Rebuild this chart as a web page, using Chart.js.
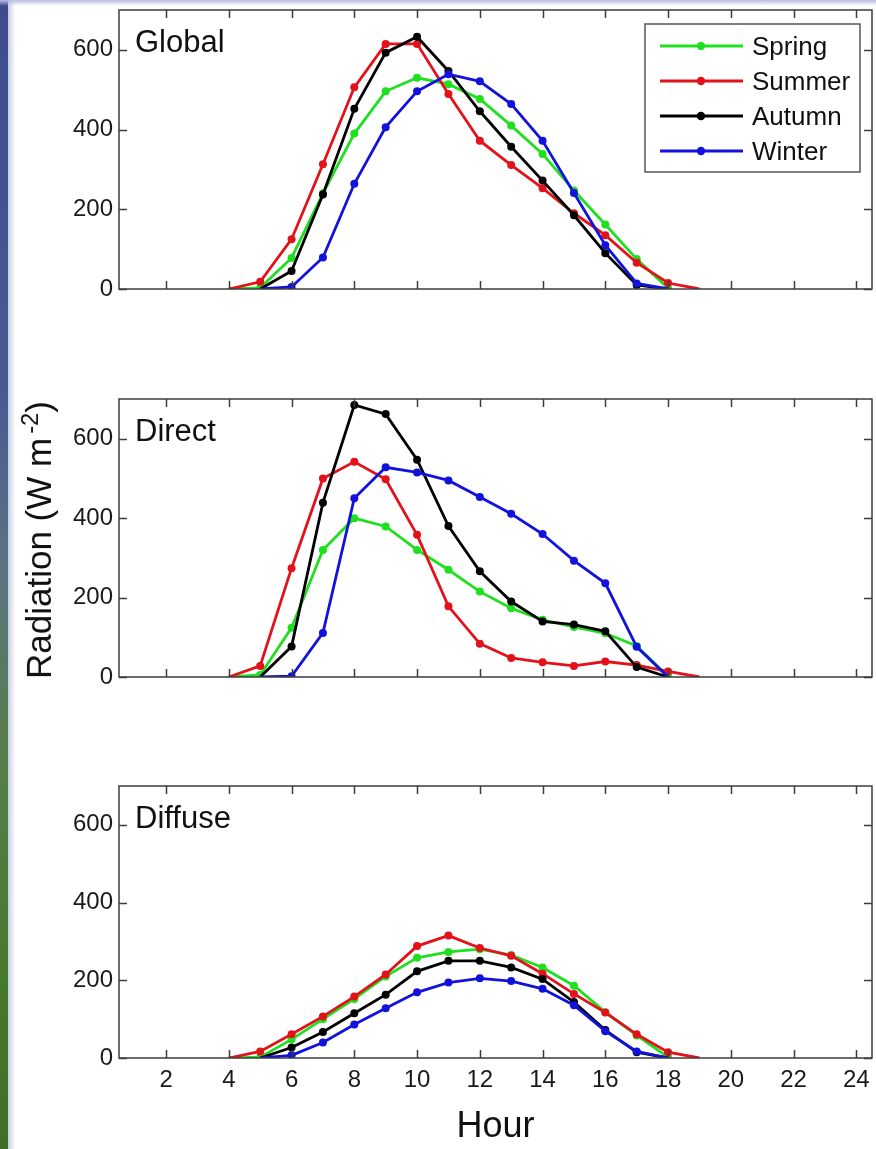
<!DOCTYPE html>
<html>
<head>
<meta charset="utf-8">
<script src="https://cdn.jsdelivr.net/npm/chart.js@4.4.1/dist/chart.umd.min.js"></script>
<style>
  html, body { margin: 0; padding: 0; background: #fff; }
  body {
    width: 876px; height: 1149px; position: relative; overflow: hidden;
    font-family: "Liberation Sans", Arial, Helvetica, sans-serif;
  }
  /* slide frame: gradient strip on the left, pale band on top */
  .frame-left {
    position: absolute; left: 0; top: 0; width: 8px; height: 1149px;
    background: linear-gradient(to bottom, #3e4c8e 0%, #4a5b93 35%, #5c7482 50%, #577f4c 65%, #467a2e 85%, #3f6f28 100%);
  }
  .frame-left::after {
    content: ''; position: absolute; left: 8px; top: 0; width: 7px; height: 100%;
    background: linear-gradient(to right, rgba(150, 160, 200, 0.55), rgba(255, 255, 255, 0));
  }
  .frame-top {
    position: absolute; left: 0; top: 0; width: 876px; height: 6px;
    background: linear-gradient(to bottom, #b8bde2, rgba(255, 255, 255, 0));
  }
  .panel { position: absolute; left: 0; width: 876px; }
  .panel canvas { display: block; }
  #ytitle {
    position: absolute; left: 37px; top: 540px;
    transform: translate(-50%, -50%) rotate(-90deg);
    font-size: 35px; color: #111; white-space: nowrap; line-height: 1;
  }
  #ytitle sup { font-size: 0.68em; margin-left: 4px; vertical-align: 0.55em; }
</style>
</head>
<body>
<div class="frame-left"></div>
<div class="frame-top"></div>

<div class="panel" style="top:0"><canvas id="global-chart" width="876" height="330"></canvas></div>
<div class="panel" style="top:389px"><canvas id="direct-chart" width="876" height="330"></canvas></div>
<div class="panel" style="top:776px"><canvas id="diffuse-chart" width="876" height="373"></canvas></div>
<div id="ytitle">Radiation (W m<sup>-2</sup>)</div>

<script>
// hourly means, one value per hour from 4 to 19 (null = no record)
const hours = [4, 5, 6, 7, 8, 9, 10, 11, 12, 13, 14, 15, 16, 17, 18, 19];
const hourTicks = [2, 4, 6, 8, 10, 12, 14, 16, 18, 20, 22, 24];
const radiationTicks = [0, 200, 400, 600];
const seasons = ['Spring', 'Summer', 'Autumn', 'Winter'];

const globalSpring = [0, 3, 78, 240, 390, 496, 530, 514, 477, 410, 339, 247, 162, 75, 2, null];
const globalSummer = [0, 18, 125, 313, 506, 615, 615, 489, 372, 311, 253, 190, 135, 66, 15, 0];
const globalAutumn = [null, 0, 45, 237, 452, 593, 633, 547, 446, 357, 272, 185, 90, 10, 0, null];
const globalWinter = [null, 0, 5, 79, 264, 406, 496, 539, 521, 464, 372, 241, 110, 14, 0, null];

const directSpring = [0, 5, 124, 320, 400, 379, 320, 270, 215, 173, 144, 126, 110, 78, 2, null];
const directSummer = [0, 28, 274, 500, 542, 498, 358, 178, 84, 48, 37, 28, 39, 30, 14, 0];
const directAutumn = [null, 0, 77, 439, 685, 662, 547, 380, 266, 190, 140, 132, 115, 25, 0, null];
const directWinter = [null, 0, 2, 111, 450, 528, 515, 495, 453, 411, 360, 293, 236, 76, 0, null];

const diffuseSpring = [0, 2, 48, 100, 152, 210, 258, 273, 280, 265, 233, 186, 118, 58, 2, null];
const diffuseSummer = [0, 17, 61, 107, 158, 215, 288, 315, 283, 263, 217, 165, 117, 61, 15, 0];
const diffuseAutumn = [null, 0, 27, 67, 115, 163, 223, 250, 250, 233, 203, 144, 72, 15, 0, null];
const diffuseWinter = [null, 0, 7, 40, 86, 128, 169, 194, 205, 198, 178, 136, 69, 17, 0, null];

const seasonColors = ['#1fe01f', '#e3121a', '#000000', '#1212dc'];
const fontFamily = '"Liberation Sans", Arial, Helvetica, sans-serif';
Chart.defaults.font.family = fontFamily;

// boxed axes with ticks pointing inwards on all four sides
const boxAxes = {
    id: 'boxAxes',
    afterDatasetsDraw(chart) {
        const {ctx, chartArea: a, scales: {x, y}} = chart;
        const len = 8;
        ctx.save();
        ctx.strokeStyle = '#3c3c3c';
        ctx.lineWidth = 1.5;
        ctx.strokeRect(a.left, a.top, a.right - a.left, a.bottom - a.top);
        ctx.beginPath();
        x.ticks.forEach(t => {
            const px = Math.round(x.getPixelForValue(t.value)) + 0.5;
            ctx.moveTo(px, a.bottom); ctx.lineTo(px, a.bottom - len);
            ctx.moveTo(px, a.top); ctx.lineTo(px, a.top + len);
        });
        y.ticks.forEach(t => {
            const py = Math.round(y.getPixelForValue(t.value)) + 0.5;
            ctx.moveTo(a.left, py); ctx.lineTo(a.left + len, py);
            ctx.moveTo(a.right, py); ctx.lineTo(a.right - len, py);
        });
        ctx.stroke();
        ctx.restore();
    }
};

// panel name in the upper left corner
const panelLabel = {
    id: 'panelLabel',
    afterDraw(chart, args, opts) {
        const {ctx, chartArea: a} = chart;
        ctx.save();
        ctx.font = '31px ' + fontFamily;
        ctx.fillStyle = '#111';
        ctx.textBaseline = 'alphabetic';
        ctx.fillText(opts.text, a.left + 16, a.top + 42);
        ctx.restore();
    }
};

// legend box: line with a dot, then the season name
const seasonLegend = {
    id: 'seasonLegend',
    afterDraw(chart, args, opts) {
        if (!opts.show) return;
        const {ctx, chartArea: a} = chart;
        const w = 215, h = 148;
        const bx = a.right - 227, by = a.top + 14;
        ctx.save();
        ctx.fillStyle = '#fff';
        ctx.fillRect(bx, by, w, h);
        ctx.strokeStyle = '#555';
        ctx.lineWidth = 1.5;
        ctx.strokeRect(bx, by, w, h);
        ctx.font = '26px ' + fontFamily;
        ctx.textBaseline = 'alphabetic';
        chart.data.datasets.forEach((ds, i) => {
            const ry = by + 22 + i * 35;
            ctx.strokeStyle = ds.borderColor;
            ctx.lineWidth = 3;
            ctx.beginPath();
            ctx.moveTo(bx + 15, ry); ctx.lineTo(bx + 98, ry);
            ctx.stroke();
            ctx.fillStyle = ds.borderColor;
            ctx.beginPath();
            ctx.arc(bx + 56, ry, 4.2, 0, Math.PI * 2);
            ctx.fill();
            ctx.fillStyle = '#111';
            ctx.fillText(ds.label, bx + 107, ry + 9);
        });
        ctx.restore();
    }
};

function makePanel(canvasId, name, series, showHours, showLegend, padBottom) {
    return new Chart(document.getElementById(canvasId), {
        type: 'line',
        data: {
            datasets: seasons.map((season, i) => ({
                label: season,
                data: series[i].map((v, j) => ({x: hours[j], y: v})),
                borderColor: seasonColors[i],
                backgroundColor: seasonColors[i],
                borderWidth: 2.8,
                // night hours (zero) carry no marker
                pointRadius: ctx => (ctx.raw && ctx.raw.y) ? 4 : 0,
                pointBorderWidth: 0,
                tension: 0,
                order: seasons.length - i
            }))
        },
        options: {
            responsive: false,
            animation: false,
            events: [],
            layout: {padding: {left: 0, right: 4, top: 10, bottom: padBottom}},
            scales: {
                x: {
                    type: 'linear',
                    min: 0.5,
                    max: 24.5,
                    afterBuildTicks: s => { s.ticks = hourTicks.map(v => ({value: v})) },
                    afterFit: s => { s.paddingLeft = 0; s.paddingRight = 0 },
                    ticks: {display: showHours, autoSkip: false, maxRotation: 0, padding: 8,
                            color: '#1a1a1a', font: {size: 24}},
                    grid: {display: false, drawTicks: false},
                    border: {display: false},
                    title: {display: showHours, text: 'Hour', color: '#111',
                            font: {size: 36}, padding: {top: 3, bottom: 0}}
                },
                y: {
                    min: 0,
                    max: 700,
                    afterBuildTicks: s => { s.ticks = radiationTicks.map(v => ({value: v})) },
                    afterFit: s => { s.width = 119; s.paddingTop = 0; s.paddingBottom = 0 },
                    ticks: {padding: 6, color: '#1a1a1a', font: {size: 24}},
                    grid: {display: false, drawTicks: false},
                    border: {display: false}
                }
            },
            plugins: {
                legend: {display: false},
                tooltip: {enabled: false},
                panelLabel: {text: name},
                seasonLegend: {show: showLegend}
            }
        },
        plugins: [boxAxes, panelLabel, seasonLegend]
    });
}

makePanel('global-chart', 'Global',
    [globalSpring, globalSummer, globalAutumn, globalWinter], false, true, 41);
makePanel('direct-chart', 'Direct',
    [directSpring, directSummer, directAutumn, directWinter], false, false, 42);
makePanel('diffuse-chart', 'Diffuse',
    [diffuseSpring, diffuseSummer, diffuseAutumn, diffuseWinter], true, false, 0);
</script>
</body>
</html>
